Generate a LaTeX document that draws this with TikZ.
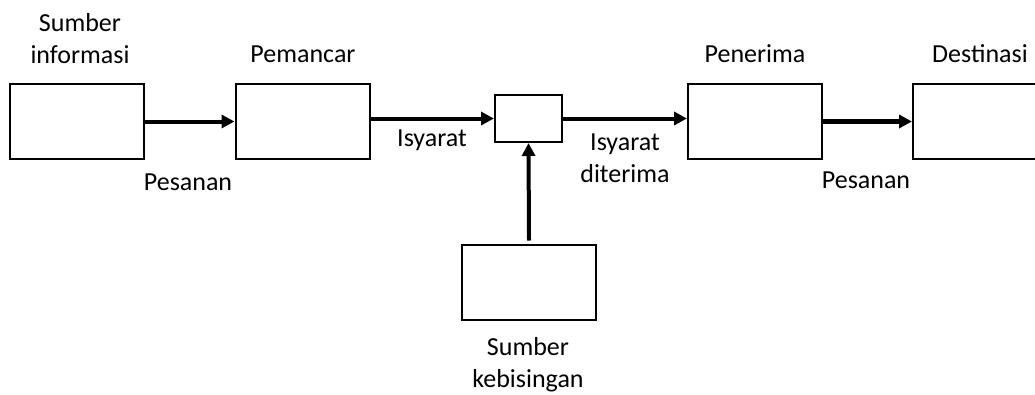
\documentclass[tikz,border=0pt]{standalone}
\usepackage{fontspec}
\setmainfont{Carlito}
\usetikzlibrary{arrows.meta}
\begin{document}
\begin{tikzpicture}[
   x=1pt,y=-1pt,
   blok/.style={draw,line width=2pt,minimum width=134pt,minimum height=75pt,inner sep=0pt},
   blokkecil/.style={blok,minimum width=67pt,minimum height=47pt},
   label/.style={font=\fontsize{26}{32}\selectfont,align=center,inner sep=0pt,anchor=base},
   aliran/.style={line width=4pt,-{Triangle[length=13pt,width=13pt]}}
 ]
 \useasboundingbox (0,0) rectangle (1035,394);
 % blok-blok sistem komunikasi
 \node[blok] (sumber) at (77,121.5) {};
 \node[blok] (pemancar) at (302.5,121.5) {};
 \node[blokkecil] (saluran) at (528.5,118.5) {};
 \node[blok] (penerima) at (755,121.5) {};
 \node[blok] (destinasi) at (980,121.5) {};
 \node[blok] (bising) at (529,282) {};
 % label (anchor base = baris terakhir)
 \node[label] (lsumber) at (80,63) {Sumber\\informasi};
 \node[label] (lpemancar) at (303,62) {Pemancar};
 \node[label] (lpenerima) at (755,62) {Penerima};
 \node[label] (ldestinasi) at (980,62) {Destinasi};
 \node[label] (lpesan1) at (188,190) {Pesanan};
 \node[label] (lisyarat) at (432,146) {Isyarat};
 \node[label] (lditerima) at (625,182) {Isyarat\\diterima};
 \node[label] (lpesan2) at (866,188) {Pesanan};
 \node[label] (lbising) at (528,387) {Sumber\\kebisingan};
 % aliran
 \draw[aliran] (sumber.east) -- (pemancar.west);
 \draw[aliran] (pemancar.east |- saluran) -- (saluran.west);
 \draw[aliran] (saluran.east) -- (penerima.west |- saluran);
 \draw[aliran,line width=5pt] (penerima.east) -- (destinasi.west);
 \draw[aliran] (bising.north) ++(0,-3) -- (saluran.south);
\end{tikzpicture}
\end{document}
